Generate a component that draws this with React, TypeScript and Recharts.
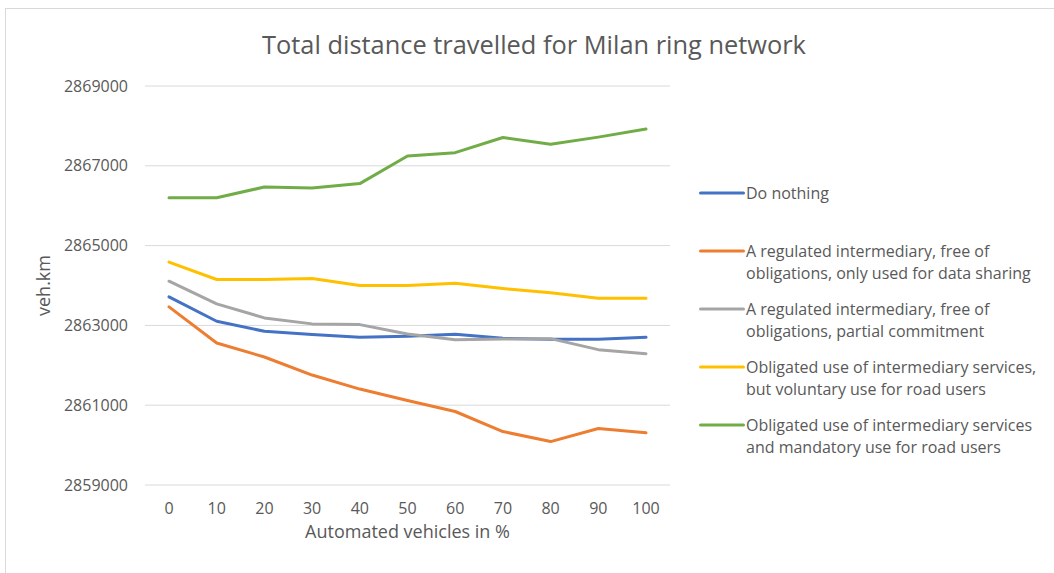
import React from 'react';
import { LineChart, Line, XAxis, YAxis, CartesianGrid, Legend, Label } from 'recharts';

// Share of automated vehicles (%) along the x axis
const shares = ['0', '10', '20', '30', '40', '50', '60', '70', '80', '90', '100'];

// Total distance travelled (veh.km) per scenario
const doNothing = [2863716, 2863103, 2862852, 2862769, 2862701, 2862726, 2862776, 2862676, 2862651, 2862651, 2862701];
const dataSharingOnly = [2863465, 2862560, 2862208, 2861756, 2861404, 2861118, 2860842, 2860339, 2860088, 2860415, 2860307];
const partialCommitment = [2864108, 2863540, 2863188, 2863038, 2863020, 2862786, 2862643, 2862660, 2862668, 2862392, 2862291];
const voluntaryUse = [2864585, 2864151, 2864151, 2864176, 2864000, 2864000, 2864058, 2863925, 2863816, 2863681, 2863681];
const mandatoryUse = [2866200, 2866200, 2866468, 2866443, 2866554, 2867246, 2867329, 2867709, 2867541, 2867719, 2867921];

const yTicks = [2859000, 2861000, 2863000, 2865000, 2867000, 2869000];

const seriesNames = [
  'Do nothing',
  'A regulated intermediary, free of\nobligations, only used for data sharing',
  'A regulated intermediary, free of\nobligations, partial commitment',
  'Obligated use of intermediary services,\nbut voluntary use for road users',
  'Obligated use of intermediary services\nand mandatory use for road users',
];
const seriesColors = ['#4472C4', '#ED7D31', '#A5A5A5', '#FFC000', '#70AD47'];
const seriesKeys = ['doNothing', 'dataSharingOnly', 'partialCommitment', 'voluntaryUse', 'mandatoryUse'];
const seriesValues = [doNothing, dataSharingOnly, partialCommitment, voluntaryUse, mandatoryUse];

const rows = shares.map((share, i) => {
  const row: Record<string, string | number> = { share };
  seriesKeys.forEach((key, s) => {
    row[key] = seriesValues[s][i];
  });
  return row;
});

const FONT = '"Open Sans", "Noto Sans", sans-serif';
const TEXT = '#595959';
const GRID = '#D9D9D9';

const seriesOrder = (item: any) => seriesKeys.indexOf(String(item.dataKey));

// Legend entries keep the series order, one evenly spaced slot each
const LegendBlock = (props: any) => {
  const items = [...(props.payload || [])].sort((a: any, b: any) => seriesOrder(a) - seriesOrder(b));
  return (
    <div style={{ fontFamily: FONT }}>
      {items.map((item: any) => (
        <div key={item.value} style={{ height: 58, display: 'flex', alignItems: 'flex-start' }}>
          <svg width={47} height={22} style={{ flex: '0 0 auto' }}>
            <line x1={1.5} y1={11} x2={44.5} y2={11} stroke={item.color} strokeWidth={3} strokeLinecap="round" />
          </svg>
          <div style={{ whiteSpace: 'pre-line', fontSize: 16, lineHeight: '22px', color: TEXT }}>
            {item.value}
          </div>
        </div>
      ))}
    </div>
  );
};

export default function App() {
  return (
    <div style={{ position: 'absolute', left: 0, top: 0, width: 1054, height: 573, overflow: 'hidden', background: '#fff' }}>
      <div
        style={{
          position: 'absolute',
          left: 5,
          top: 8,
          width: 1100,
          height: 620,
          border: `1px solid ${GRID}`,
        }}
      />
      <div
        style={{
          position: 'absolute',
          left: 0,
          top: 25,
          width: 1068,
          textAlign: 'center',
          fontFamily: FONT,
          fontSize: 25.4,
          lineHeight: '38px',
          color: TEXT,
        }}
      >
        Total distance travelled for Milan ring network
      </div>
      <LineChart
        width={1054}
        height={573}
        data={rows}
        margin={{ top: 86, right: 384, bottom: 0, left: 0 }}
        style={{ position: 'absolute', left: 0, top: 0 }}
      >
        <CartesianGrid vertical={false} stroke={GRID} strokeWidth={1} />
        <XAxis
          dataKey="share"
          interval={0}
          height={88}
          padding={{ left: 24, right: 24 }}
          axisLine={false}
          tickLine={false}
          tickMargin={12}
          tick={{ fill: TEXT, fontSize: 16, fontFamily: FONT }}
        >
          <Label
            content={(p: any) => {
              const vb = p.viewBox || {};
              return (
                <text
                  x={vb.x + vb.width / 2}
                  y={vb.y + 53}
                  textAnchor="middle"
                  fill={TEXT}
                  fontSize={18}
                  fontFamily={FONT}
                >
                  Automated vehicles in %
                </text>
              );
            }}
          />
        </XAxis>
        <YAxis
          domain={[2859000, 2869000]}
          ticks={yTicks}
          width={145}
          axisLine={false}
          tickLine={false}
          tickMargin={11}
          tick={{ fill: TEXT, fontSize: 16, fontFamily: FONT }}
        >
          <Label
            content={(p: any) => {
              const vb = p.viewBox || {};
              const cx = vb.x + 43;
              const cy = vb.y + vb.height / 2;
              return (
                <text
                  x={cx}
                  y={cy}
                  transform={`rotate(-90 ${cx} ${cy})`}
                  textAnchor="middle"
                  dominantBaseline="central"
                  fill={TEXT}
                  fontSize={18}
                  fontFamily={FONT}
                >
                  veh.km
                </text>
              );
            }}
          />
        </YAxis>
        <Legend
          layout="vertical"
          align="center"
          verticalAlign="middle"
          itemSorter={seriesOrder}
          content={LegendBlock}
          wrapperStyle={{ position: 'absolute', left: 699, top: 182, width: 355, height: 'auto' }}
        />
        {seriesKeys.map((key, s) => (
          <Line
            key={key}
            type="linear"
            dataKey={key}
            name={seriesNames[s]}
            stroke={seriesColors[s]}
            strokeWidth={3}
            strokeLinecap="round"
            strokeLinejoin="round"
            dot={false}
            activeDot={false}
            isAnimationActive={false}
          />
        ))}
      </LineChart>
    </div>
  );
}
